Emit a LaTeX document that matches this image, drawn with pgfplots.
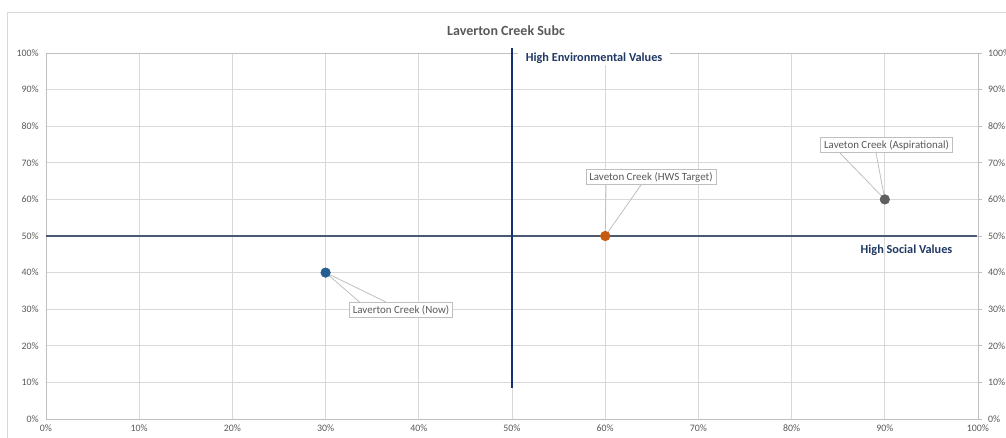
\documentclass[border=0pt]{standalone}
\usepackage{pgfplots}
\pgfplotsset{compat=1.18}
\usepackage{fontspec}
\setmainfont{Carlito}
\definecolor{gridc}{HTML}{D9D9D9}
\definecolor{axisc}{HTML}{BFBFBF}
\definecolor{txtc}{HTML}{595959}
\definecolor{nowc}{HTML}{255E91}
\definecolor{hwsc}{HTML}{C55A11}
\definecolor{aspc}{HTML}{5F5F5F}
\definecolor{vlinec}{HTML}{14306E}
\definecolor{hlinec}{HTML}{4A5A70}
\definecolor{navyt}{HTML}{1F3864}
\begin{document}
\begin{tikzpicture}
\path[use as bounding box] (0,0) rectangle (754.5pt,-327.75pt);
\draw[gridc, line width=0.6pt] (5.25pt,-340pt) -- (5.25pt,-9pt) -- (770pt,-9pt);
\node[text=txtc, font=\fontsize{10.5}{12}\selectfont\bfseries] at (379.5pt,-23.25pt) {Laverton Creek Subc};
\begin{axis}[
  at={(34.5pt,-314.25pt)}, anchor=south west,
  scale only axis, width=699pt, height=274.5pt,
  xmin=0, xmax=100, ymin=0, ymax=100,
  xtick={0,10,...,100}, ytick={0,10,...,100},
  /pgf/number format/assume math mode=true,
  xticklabel={\pgfmathprintnumber{\tick}\%},
  yticklabel={\pgfmathprintnumber{\tick}\%},
  ticklabel style={text=txtc, font=\fontsize{7.4}{8}\selectfont},
  major tick length=0pt,
  xmajorgrids, ymajorgrids,
  grid style={gridc, line width=0.6pt},
  axis line style={axisc, line width=0.6pt},
  clip=false,
  yticklabel style={xshift=-2pt},
  xticklabel style={yshift=-1pt},
]
% quadrant lines
\addplot[hlinec, line width=2.2pt] coordinates {(0,50) (99.9,50)};
\addplot[vlinec, line width=2.2pt] coordinates {(50,8.5) (50,101.4)};
% labels for the quadrant lines
\node[anchor=west, fill=white, inner xsep=6pt, inner ysep=1pt, text=navyt, font=\fontsize{9.2}{10}\selectfont\bfseries] at (axis cs:50.6,98.63) {High Environmental Values};
\node[anchor=east, text=navyt, font=\fontsize{9.2}{10}\selectfont\bfseries] at (axis cs:97.75,46.17) {High Social Values};
% leader wedges
\draw[axisc, line width=0.6pt] (axis cs:34.01,31.15) -- (axis cs:30,40) -- (axis cs:37.12,31.15);
\draw[axisc, line width=0.6pt] (axis cs:60.09,63.93) -- (axis cs:60,50) -- (axis cs:63.84,63.93);
\draw[axisc, line width=0.6pt] (axis cs:85.19,72.68) -- (axis cs:90,60) -- (axis cs:89.06,72.68);
% data points
\addplot[only marks, mark=*, mark size=3.6pt, nowc] coordinates {(30,40)};
\addplot[only marks, mark=*, mark size=3.6pt, hwsc] coordinates {(60,50)};
\addplot[only marks, mark=*, mark size=3.6pt, aspc] coordinates {(90,60)};
% callout boxes
\node[draw=axisc, fill=white, line width=0.6pt, inner xsep=2.5pt, inner ysep=2pt, text=txtc, font=\fontsize{8.2}{9}\selectfont] at (axis cs:38.09,29.78) {Laverton Creek (Now)};
\node[draw=axisc, fill=white, line width=0.6pt, inner xsep=2.5pt, inner ysep=2pt, text=txtc, font=\fontsize{8.2}{9}\selectfont] at (axis cs:64.91,66.12) {Laveton Creek (HWS Target)};
\node[draw=axisc, fill=white, line width=0.6pt, inner xsep=2.5pt, inner ysep=2pt, text=txtc, font=\fontsize{8.2}{9}\selectfont] at (axis cs:90.18,74.86) {Laveton Creek (Aspirational)};
\end{axis}
\begin{axis}[
  at={(34.5pt,-314.25pt)}, anchor=south west,
  scale only axis, width=699pt, height=274.5pt,
  xmin=0, xmax=100, ymin=0, ymax=100,
  hide x axis,
  axis y line*=right,
  ytick={0,10,...,100},
  /pgf/number format/assume math mode=true,
  yticklabel={\pgfmathprintnumber{\tick}\%},
  yticklabel style={text=txtc, font=\fontsize{7.4}{8}\selectfont, xshift=1pt},
  tick align=outside, major tick length=3pt,
  tick style={axisc, line width=0.6pt},
  axis line style={axisc, line width=0.6pt},
]
\addplot[draw=none] coordinates {(0,0)};
\end{axis}
\end{tikzpicture}
\end{document}
